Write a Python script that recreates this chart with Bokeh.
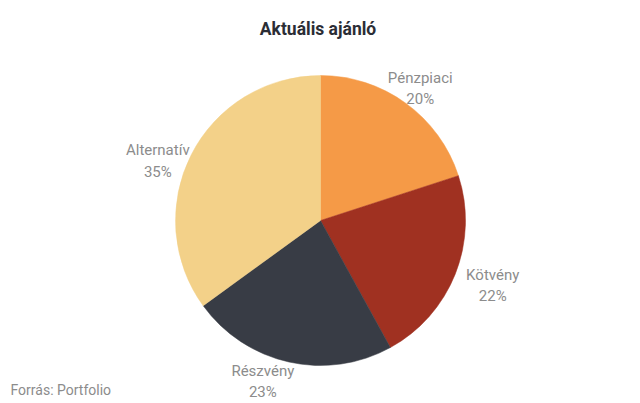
import math
from bokeh.plotting import figure
from bokeh.models import Range1d, ColumnDataSource
from bokeh.core.properties import value
from bokeh.embed import file_html
from bokeh.resources import INLINE

# ---- data ----
categories = ["Pénzpiaci", "Kötvény", "Részvény", "Alternatív"]
shares = [20, 22, 23, 35]
colors = ["#F59A47", "#A03121", "#383C45", "#F3D189"]
title_text = "Aktuális ajánló"
source_text = "Forrás: Portfolio"

# ---- layout (figure pixel space, y measured from top) ----
W, H = 640, 403
CX, CY_TOP = 320, 220
R = 145
LABEL_R = 168
LABEL_NUDGE = [(1, 4), (16, 3), (-21, -3), (-13, 17)]

p = figure(width=W, height=H, output_backend="svg", toolbar_location=None,
           x_range=Range1d(0, W), y_range=Range1d(0, H),
           x_axis_location=None, y_axis_location=None, min_border=0)
p.grid.visible = False
p.outline_line_color = None
p.background_fill_color = "white"
p.border_fill_color = "white"

def Y(yt):
    return H - yt

total = float(sum(shares))
starts, ends, mids = [], [], []
acc = 0.0
for s in shares:
    a0 = math.pi / 2 - 2 * math.pi * acc / total
    acc += s
    a1 = math.pi / 2 - 2 * math.pi * acc / total
    starts.append(a0)
    ends.append(a1)
    mids.append((a0 + a1) / 2)

src = ColumnDataSource(dict(x=[CX] * len(shares), y=[Y(CY_TOP)] * len(shares),
                            start=starts, end=ends, color=colors))
p.wedge(x="x", y="y", radius=R, start_angle="start", end_angle="end",
        direction="clock", fill_color="color", line_color="color", line_width=0.5,
        source=src)

lx, ly, lt = [], [], []
for cat, s, m, (dx, dy) in zip(categories, shares, mids, LABEL_NUDGE):
    lx.append(CX + LABEL_R * math.cos(m) + dx)
    ly.append(Y(CY_TOP - LABEL_R * math.sin(m) + dy))
    lt.append(f"{cat}\n{s}%")
p.text(x=lx, y=ly, text=lt, text_align="center", text_baseline="middle",
       text_font=value("Roboto"), text_font_size="15px", text_color="#8C8C8C",
       text_line_height=1.2)

p.text(x=[W / 2 - 2.5], y=[Y(28)], text=[title_text], text_align="center",
       text_baseline="alphabetic", text_font=value("Roboto"), text_font_size="17.5px",
       text_font_style="bold", text_color="#2B2D35")

p.text(x=[10], y=[Y(389)], text=[source_text], text_align="left",
       text_baseline="alphabetic", text_font=value("Roboto"), text_font_size="14px",
       text_color="#8C8C8C")

open("out.html", "w").write(file_html(p, INLINE))
